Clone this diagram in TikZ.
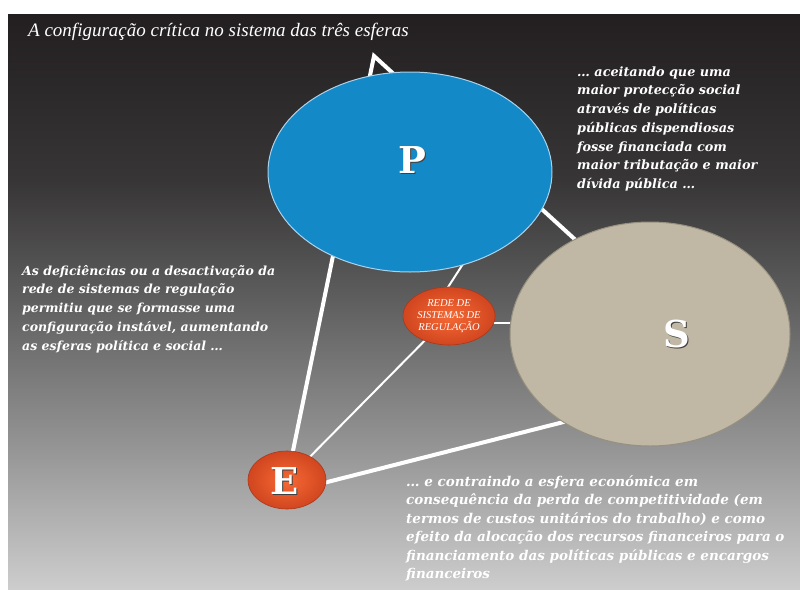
\documentclass[tikz,border=0pt]{standalone}
\usepackage{fontspec}
\setmainfont{DejaVu Serif}
\newfontfamily\titlefont{Liberation Serif}
\newfontfamily\bodyfont{DejaVu Serif}
\usetikzlibrary{shapes.geometric}
\definecolor{bgA}{RGB}{205,205,205}
\definecolor{bgB}{RGB}{150,150,150}
\definecolor{bgC}{RGB}{95,95,95}
\definecolor{bgD}{RGB}{55,53,54}
\definecolor{bgE}{RGB}{35,31,32}
\definecolor{pblue}{RGB}{20,137,199}
\definecolor{prim}{RGB}{170,210,235}
\definecolor{sbeige}{RGB}{192,184,164}
\definecolor{srim}{RGB}{150,144,128}
\definecolor{orin}{RGB}{245,105,52}
\definecolor{orout}{RGB}{210,70,32}
\pgfdeclareverticalshading{bgshade}{100bp}{color(0bp)=(bgA); color(25bp)=(bgA); color(37bp)=(bgB); color(50bp)=(bgC); color(60.6bp)=(bgD); color(75bp)=(bgE); color(100bp)=(bgE)}
\pgfdeclarelayer{bglayer}
\pgfdeclarelayer{lines}
\pgfsetlayers{bglayer,lines,main}
\begin{document}
\begin{tikzpicture}[x=1pt,y=-1pt,
  thickline/.style={draw=white, line width=4pt},
  thinline/.style={draw=white, line width=2pt},
  bodytext/.style={text=white, align=left, inner sep=0pt, anchor=north west},
  bigletter/.style={text=white, font=\bodyfont\bfseries\fontsize{37}{40}\selectfont, inner sep=0pt},
  lettershadow/.style={text=black!75, font=\bodyfont\bfseries\fontsize{37}{40}\selectfont, inner sep=0pt},
  orangeball/.style={ellipse, shading=radial, inner color=orin, outer color=orout, draw=orout!80!black, line width=0.6pt, inner sep=0pt}]
\useasboundingbox (0,0) rectangle (800,589);
\begin{pgfonlayer}{bglayer}
\fill[white] (0,0) rectangle (800,589);
\shade[shading=bgshade] (8,14) rectangle (800,589);
\end{pgfonlayer}

% spheres
\node[ellipse, fill=pblue, draw=prim, line width=1pt, minimum width=284pt, minimum height=200pt] (P) at (410,172) {};
\node[ellipse, fill=sbeige, draw=srim, line width=1pt, minimum width=280pt, minimum height=224pt] (S) at (650,334) {};
\node[orangeball, minimum width=78pt, minimum height=58pt] (E) at (287,480) {};
\node[orangeball, minimum width=92pt, minimum height=58pt] (R) at (449,316) {};

% hidden vertices of the triangle
\coordinate (A) at (374,56);
\coordinate (Sv) at (729,380);
\coordinate (Eb) at (288,492);
\coordinate (Rp) at (432,312);
\coordinate (Pp) at (472,250);

\begin{pgfonlayer}{lines}
\draw[thickline, line join=miter] (E.center) -- (A) -- (Sv);
\draw[thickline] (Eb) -- (Sv);
\draw[thinline] (E.center) -- (R.center);
\draw[thinline] (Rp) -- (Pp);
\draw[thinline] ([yshift=-7pt]R.center) -- ([yshift=-7pt]R.center -| S.center);
\end{pgfonlayer}

% letters
\node[lettershadow] (Pshadow) at (413,161) {P};
\node[bigletter] (Plabel) at (412,160) {P};
\node[lettershadow] (Sshadow) at (678,335) {S};
\node[bigletter] (Slabel) at (677,334) {S};
\node[lettershadow] (Eshadow) at (286,482) {E};
\node[bigletter] (Elabel) at (285,481) {E};

\node[text=white, font=\titlefont\itshape\fontsize{10.5}{12}\selectfont, align=center, inner sep=0pt] (Rlabel) at (449,316) {REDE DE\\SISTEMAS DE\\REGULAÇÃO};

% texts
\node[text=white, font=\titlefont\itshape\fontsize{19}{22}\selectfont, inner sep=0pt, anchor=base west] (title) at (28,36) {A configuração crítica no sistema das três esferas};

\node[bodytext, font=\bodyfont\bfseries\itshape\fontsize{12.8}{18.7}\selectfont] (tright) at (577,65) {\rule{0pt}{11pt}… aceitando que uma\\maior protecção social\\através de políticas\\públicas dispendiosas\\fosse financiada com\\maior tributação e maior\\dívida pública …};

\node[bodytext, font=\bodyfont\bfseries\itshape\fontsize{12.5}{18.7}\selectfont] (tleft) at (22,264) {\rule{0pt}{11pt}As deficiências ou a desactivação da\\rede de sistemas de regulação\\permitiu que se formasse uma\\configuração instável, aumentando\\as esferas política e social …};

\node[bodytext, font=\bodyfont\bfseries\itshape\fontsize{13.5}{18.5}\selectfont] (tbottom) at (406,475) {\rule{0pt}{11pt}… e contraindo a esfera económica em\\consequência da perda de competitividade (em\\termos de custos unitários do trabalho) e como\\efeito da alocação dos recursos financeiros para o\\financiamento das políticas públicas e encargos\\financeiros};
\end{tikzpicture}
\end{document}
